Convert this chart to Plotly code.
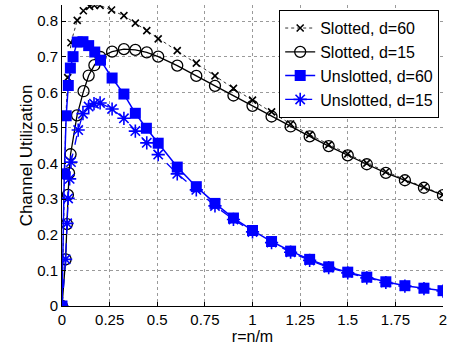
import plotly.graph_objects as go

# ---- data ----
tail_r = [0.9, 1.0, 1.1, 1.2, 1.3, 1.4, 1.5, 1.6, 1.7, 1.8, 1.9, 2.0]

slotted60_r = [0, 0.012, 0.02, 0.03, 0.047, 0.08, 0.112, 0.145, 0.17, 0.2, 0.26, 0.325,
               0.385, 0.445, 0.505, 0.605, 0.705, 0.803] + tail_r
slotted60_u = [0, 0.37, 0.53, 0.641, 0.739, 0.802, 0.829, 0.841, 0.844, 0.844, 0.831, 0.815,
               0.794, 0.773, 0.75, 0.717, 0.682, 0.646,
               0.611, 0.578, 0.545, 0.511, 0.481, 0.453, 0.427, 0.401, 0.377, 0.355, 0.334, 0.313]

slotted15_r = [0, 0.019, 0.026, 0.031, 0.037, 0.045, 0.079, 0.113, 0.14, 0.17, 0.202, 0.263,
               0.325, 0.385, 0.445, 0.505, 0.605, 0.705, 0.803] + tail_r
slotted15_u = [0, 0.131, 0.23, 0.312, 0.373, 0.426, 0.535, 0.603, 0.647, 0.676, 0.699, 0.714,
               0.721, 0.719, 0.712, 0.70, 0.675, 0.646, 0.618,
               0.591, 0.562, 0.532, 0.504, 0.476, 0.449, 0.423, 0.398, 0.374, 0.353, 0.332, 0.311]

unslotted60_r = [0, 0.012, 0.022, 0.033, 0.044, 0.058, 0.08, 0.11, 0.14, 0.172, 0.202, 0.263,
                 0.325, 0.385, 0.443, 0.505, 0.605, 0.705, 0.803] + tail_r
unslotted60_u = [0, 0.371, 0.534, 0.619, 0.668, 0.70, 0.741, 0.742, 0.731, 0.713, 0.69, 0.64,
                 0.595, 0.541, 0.499, 0.457, 0.39, 0.335, 0.288,
                 0.247, 0.212, 0.181, 0.154, 0.131, 0.11, 0.095, 0.081, 0.068, 0.057, 0.05, 0.043]

unslotted15_r = [0, 0.019, 0.027, 0.032, 0.04, 0.047, 0.085, 0.11, 0.14, 0.168, 0.2, 0.263,
                 0.325, 0.385, 0.445, 0.505, 0.605, 0.705, 0.803] + tail_r
unslotted15_u = [0, 0.131, 0.232, 0.302, 0.357, 0.404, 0.494, 0.54, 0.56, 0.568, 0.57, 0.553,
                 0.527, 0.491, 0.458, 0.425, 0.371, 0.326, 0.281,
                 0.243, 0.208, 0.178, 0.151, 0.128, 0.108, 0.093, 0.079, 0.066, 0.056, 0.049, 0.042]

x_ticks = [0, 0.25, 0.5, 0.75, 1, 1.25, 1.5, 1.75, 2]
x_labels = ["0", "0.25", "0.5", "0.75", "1", "1.25", "1.5", "1.75", "2"]
y_ticks = [0, 0.1, 0.2, 0.3, 0.4, 0.5, 0.6, 0.7, 0.8]
y_labels = ["0", "0.1", "0.2", "0.3", "0.4", "0.5", "0.6", "0.7", "0.8"]

BLUE = "#0000ff"
FONT = "Liberation Sans, Arial, sans-serif"

fig = go.Figure()

fig.add_trace(go.Scatter(
    x=slotted60_r, y=slotted60_u, name="Slotted, d=60", legendrank=1,
    mode="lines+markers",
    line=dict(color="#333333", width=1, dash="dot"),
    marker=dict(symbol="x-thin-open", size=7, color="black", line=dict(color="black", width=1.6)),
))
fig.add_trace(go.Scatter(
    x=slotted15_r, y=slotted15_u, name="Slotted, d=15", legendrank=2,
    mode="lines+markers",
    line=dict(color="black", width=1.3),
    marker=dict(symbol="circle-open", size=11, color="black", line=dict(color="black", width=1.3)),
))
fig.add_trace(go.Scatter(
    x=unslotted15_r, y=unslotted15_u, name="Unslotted, d=15", legendrank=4,
    mode="lines+markers",
    line=dict(color=BLUE, width=1.3, dash="dash"),
    marker=dict(symbol="asterisk-open", size=11, color=BLUE, line=dict(color=BLUE, width=1.6)),
))
fig.add_trace(go.Scatter(
    x=unslotted60_r, y=unslotted60_u, name="Unslotted, d=60", legendrank=3,
    mode="lines+markers",
    line=dict(color=BLUE, width=1.5),
    marker=dict(symbol="square", size=11, color=BLUE, line=dict(color=BLUE, width=0)),
))

axis_common = dict(
    showline=True, linecolor="black", linewidth=1, mirror=False,
    ticks="inside", ticklen=4, tickcolor="black", tickwidth=1,
    showgrid=True, gridcolor="#9a9a9a", gridwidth=1, griddash="dot",
    zeroline=False, automargin=False,
    tickfont=dict(family=FONT, size=15, color="black"),
)

fig.update_layout(
    width=453, height=350,
    margin=dict(l=62, r=10, t=5, b=44),
    paper_bgcolor="white", plot_bgcolor="white",
    font=dict(family=FONT, color="black"),
    showlegend=True,
    legend=dict(
        x=0.99, y=0.983, xanchor="right", yanchor="top",
        bgcolor="white", bordercolor="black", borderwidth=1,
        font=dict(family=FONT, size=16, color="black"),
        itemwidth=30, tracegroupgap=0,
    ),
    xaxis=dict(
        range=[0, 2], tickvals=x_ticks, ticktext=x_labels,
        title=dict(text="r=n/m", font=dict(family=FONT, size=16, color="black"), standoff=2),
        **axis_common,
    ),
    yaxis=dict(
        range=[0, 0.845], tickvals=y_ticks, ticktext=y_labels,
        title=dict(text="Channel Utilization", font=dict(family=FONT, size=17, color="black"), standoff=0),
        **axis_common,
    ),
)

fig.write_html(
    "out.html",
    config={"displayModeBar": False},
    post_script="document.body.style.margin='0';document.body.style.overflow='hidden';",
)
